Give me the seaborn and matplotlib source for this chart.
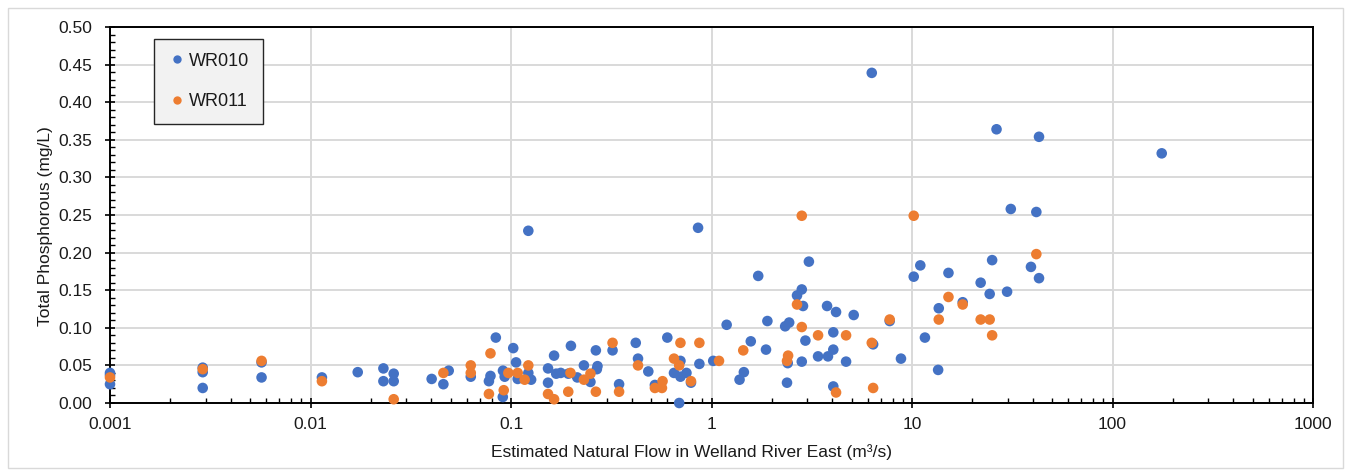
import numpy as np
import pandas as pd
import matplotlib
matplotlib.use("Agg")
import matplotlib.pyplot as plt
import matplotlib.ticker as mticker
from matplotlib.patches import Rectangle
from matplotlib.lines import Line2D
import seaborn as sns

# ---- data ----
wr010_flow = [0.001, 0.001, 0.001, 0.0029, 0.0029, 0.0029, 0.0057, 0.0057, 0.0114, 0.0172,
              0.0231, 0.0231, 0.026, 0.026, 0.0402, 0.046, 0.0489, 0.063, 0.0776, 0.079,
              0.084, 0.0912, 0.093, 0.091, 0.1026, 0.106, 0.108, 0.122, 0.122, 0.126,
              0.153, 0.153, 0.164, 0.168, 0.177, 0.193, 0.199, 0.214, 0.231, 0.249,
              0.265, 0.268, 0.27, 0.321, 0.346, 0.419, 0.43, 0.484, 0.522, 0.602,
              0.65, 0.70, 0.70, 0.69, 0.75, 0.79, 0.857, 0.87, 1.02, 1.19,
              1.38, 1.45, 1.57, 1.71, 1.87, 1.90, 2.33, 2.44, 2.38, 2.4,
              2.67, 2.82, 2.86, 2.82, 2.94, 3.06, 3.40, 3.77, 3.81, 4.05,
              4.05, 4.05, 4.18, 4.69, 5.12, 6.30, 6.4, 7.74, 8.81, 10.2,
              11.0, 11.6, 13.5, 13.6, 15.2, 17.9, 22.0, 24.4, 25.1, 26.4,
              29.8, 31.1, 39.2, 41.7, 43.0, 43.0, 176]
wr010_tp = [0.040, 0.037, 0.025, 0.047, 0.041, 0.020, 0.054, 0.034, 0.034, 0.041,
            0.046, 0.029, 0.039, 0.029, 0.032, 0.025, 0.043, 0.035, 0.029, 0.036,
            0.087, 0.043, 0.035, 0.008, 0.073, 0.054, 0.032, 0.040, 0.229, 0.031,
            0.046, 0.027, 0.063, 0.039, 0.040, 0.039, 0.076, 0.034, 0.050, 0.028,
            0.070, 0.045, 0.049, 0.070, 0.025, 0.080, 0.059, 0.042, 0.024, 0.087,
            0.040, 0.056, 0.035, 0.000, 0.040, 0.027, 0.233, 0.052, 0.056, 0.104,
            0.031, 0.041, 0.082, 0.169, 0.071, 0.109, 0.102, 0.107, 0.027, 0.053,
            0.143, 0.151, 0.129, 0.055, 0.083, 0.188, 0.062, 0.129, 0.062, 0.094,
            0.071, 0.022, 0.121, 0.055, 0.117, 0.439, 0.078, 0.109, 0.059, 0.168,
            0.183, 0.087, 0.044, 0.126, 0.173, 0.134, 0.160, 0.145, 0.190, 0.364,
            0.148, 0.258, 0.181, 0.254, 0.166, 0.354, 0.332]

wr011_flow = [0.001, 0.0029, 0.0057, 0.0114, 0.026, 0.046, 0.063, 0.063, 0.0776, 0.079,
              0.092, 0.097, 0.108, 0.117, 0.122, 0.153, 0.164, 0.193, 0.198, 0.231,
              0.249, 0.265, 0.321, 0.346, 0.43, 0.522, 0.566, 0.57, 0.65, 0.69,
              0.70, 0.79, 0.87, 1.09, 1.44, 2.38, 2.41, 2.67, 2.82, 2.82,
              3.40, 4.18, 4.69, 6.30, 6.4, 7.74, 10.2, 13.6, 15.2, 17.9,
              22.0, 24.4, 25.1, 41.7]
wr011_tp = [0.034, 0.045, 0.056, 0.029, 0.005, 0.040, 0.050, 0.040, 0.012, 0.066,
            0.017, 0.040, 0.040, 0.031, 0.050, 0.012, 0.005, 0.015, 0.040, 0.031,
            0.039, 0.015, 0.080, 0.015, 0.050, 0.020, 0.020, 0.029, 0.059, 0.050,
            0.080, 0.029, 0.080, 0.056, 0.070, 0.056, 0.063, 0.131, 0.249, 0.101,
            0.090, 0.014, 0.090, 0.080, 0.020, 0.111, 0.249, 0.111, 0.141, 0.131,
            0.111, 0.111, 0.090, 0.198]

series_names = ["WR010", "WR011"]
series_colors = ["#4472C4", "#ED7D31"]
x_ticks = [0.001, 0.01, 0.1, 1, 10, 100, 1000]
x_tick_labels = ["0.001", "0.01", "0.1", "1", "10", "100", "1000"]

df = pd.DataFrame({
    "flow": wr010_flow + wr011_flow,
    "tp": wr010_tp + wr011_tp,
    "site": [series_names[0]] * len(wr010_flow) + [series_names[1]] * len(wr011_flow),
})

sns.set_theme(style="white")
plt.rcParams["font.family"] = ["Liberation Sans", "DejaVu Sans"]

W, H = 1351, 476
fig = plt.figure(figsize=(W / 100, H / 100), dpi=100)
ax = fig.add_axes([110 / W, 1 - 403 / H, 1203 / W, 376 / H])

sns.scatterplot(data=df, x="flow", y="tp", hue="site", palette=series_colors,
                hue_order=series_names, s=58, linewidth=0, ax=ax, zorder=3,
                legend=False, clip_on=False)

ax.set_xscale("log")
ax.set_xlim(0.001, 1000)
ax.set_ylim(0, 0.5)
ax.set_xticks(x_ticks)
ax.set_xticklabels(x_tick_labels)
ax.xaxis.set_minor_locator(mticker.LogLocator(base=10, subs=np.arange(2, 10)))
ax.xaxis.set_minor_formatter(mticker.NullFormatter())
ax.set_yticks(np.arange(0, 0.501, 0.05))
ax.yaxis.set_major_formatter(mticker.FormatStrFormatter("%.2f"))
ax.yaxis.set_minor_locator(mticker.MultipleLocator(0.01))

ax.grid(True, which="major", color="#d9d9d9", linewidth=1.4, zorder=0)
ax.set_axisbelow(True)
for sp in ax.spines.values():
    sp.set_visible(True)
    sp.set_color("black")
    sp.set_linewidth(1.4)

ax.tick_params(axis="both", which="major", direction="inout", length=7.5, width=1.2,
               color="black", labelsize=12.5, labelcolor="#1a1a1a")
ax.tick_params(axis="x", which="major", pad=6.5)
ax.tick_params(axis="y", which="major", pad=9)
ax.tick_params(axis="both", which="minor", direction="in", length=3.8, width=1.0,
               color="black")
ax.tick_params(axis="x", which="both", bottom=True, top=False)
ax.tick_params(axis="y", which="both", left=True, right=False)

ax.set_xlabel("Estimated Natural Flow in Welland River East (m³/s)", fontsize=12.5,
              color="#1a1a1a")
ax.set_ylabel("Total Phosphorous (mg/L)", fontsize=12.5, color="#1a1a1a")
ax.xaxis.set_label_coords(0.483, -0.11)
ax.yaxis.set_label_coords(-0.047, 0.471)

# legend
handles = [Line2D([], [], marker="o", linestyle="none", markersize=6,
                  markerfacecolor=c, markeredgewidth=0) for c in series_colors]
leg = ax.legend(handles, series_names, loc="upper left",
                bbox_to_anchor=(44 / 1203, (403 - 39) / 376), frameon=True,
                fancybox=False, fontsize=13, labelspacing=1.3, handlelength=1.0,
                handletextpad=0.2, borderpad=0.75, borderaxespad=0,
                facecolor="#f2f2f2", edgecolor="#262626", framealpha=1)
leg.get_frame().set_linewidth(1.0)
for t in leg.get_texts():
    t.set_color("#1a1a1a")

# outer chart border
fig.patches.append(Rectangle((8 / W, 8 / H), (W - 16) / W, (H - 16) / H,
                             transform=fig.transFigure, fill=False,
                             edgecolor="#d9d9d9", linewidth=1.0))

fig.savefig("out.png", dpi=100)
